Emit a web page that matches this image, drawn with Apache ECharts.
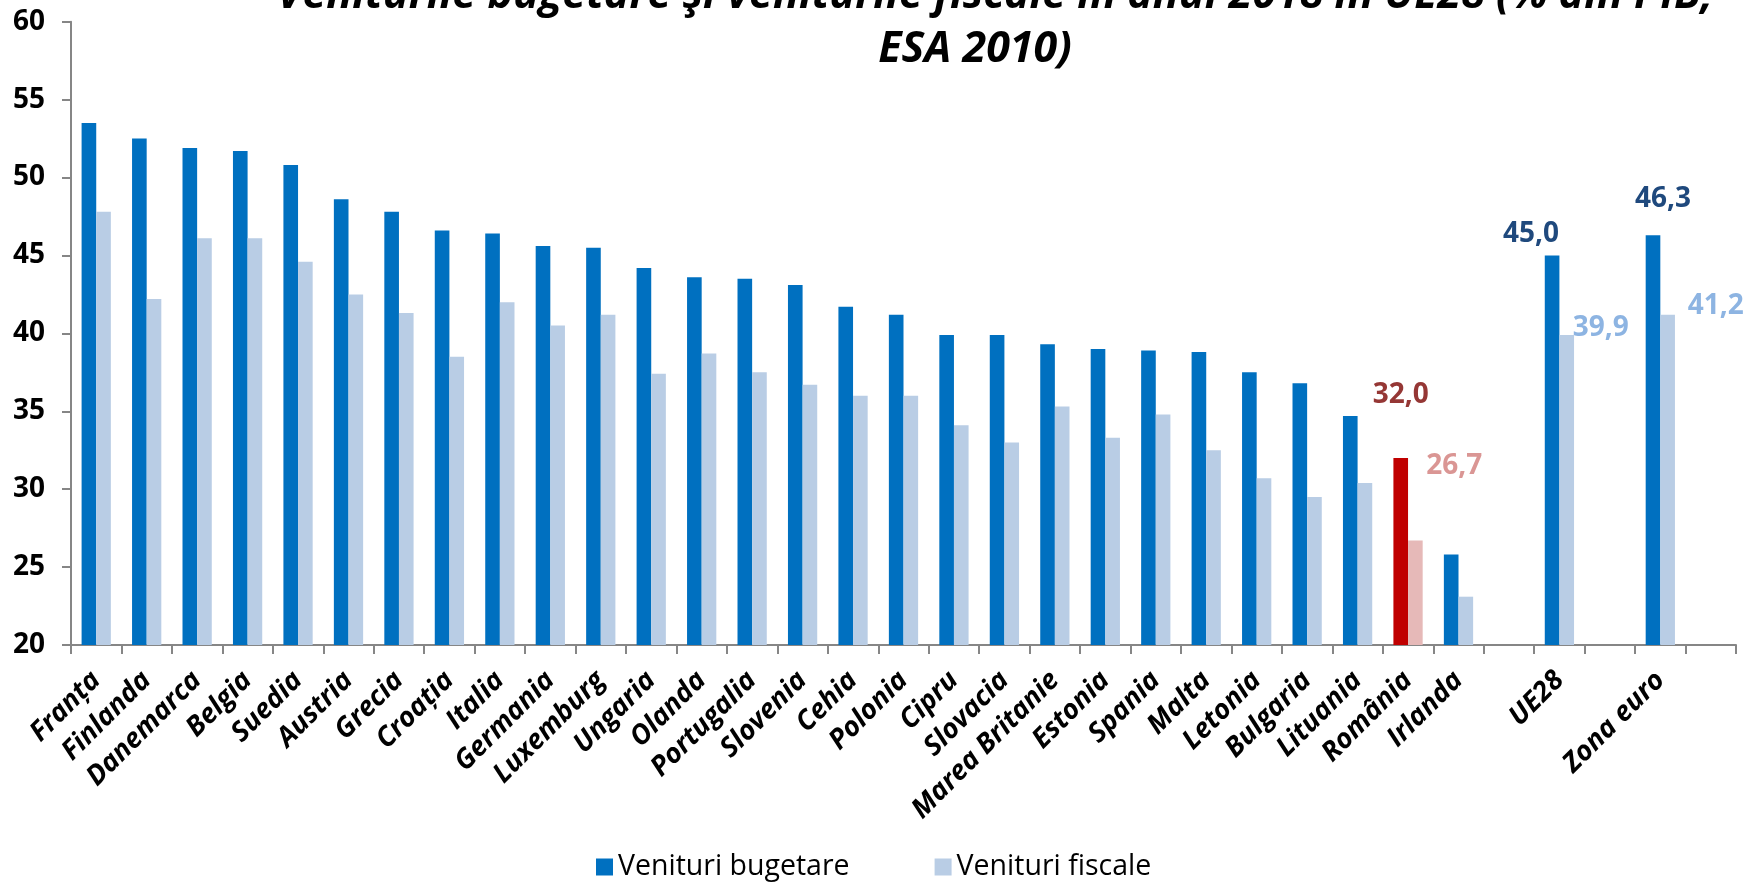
<!DOCTYPE html>
<html>
<head>
<meta charset="utf-8">
<script src="https://cdn.jsdelivr.net/npm/echarts@6/dist/echarts.min.js"></script>
<style>
html,body{margin:0;padding:0;background:#fff;}
#chart{width:1760px;height:883px;}
</style>
</head>
<body>
<div id="chart"></div>
<script>
const categories = ['Franța','Finlanda','Danemarca','Belgia','Suedia','Austria','Grecia','Croația','Italia','Germania','Luxemburg','Ungaria','Olanda','Portugalia','Slovenia','Cehia','Polonia','Cipru','Slovacia','Marea Britanie','Estonia','Spania','Malta','Letonia','Bulgaria','Lituania','România','Irlanda',' ','UE28','  ','Zona euro','   '];
const venituriBugetare = [53.5,52.5,51.9,51.7,50.8,48.6,47.8,46.6,46.4,45.6,45.5,44.2,43.6,43.5,43.1,41.7,41.2,39.9,39.9,39.3,39.0,38.9,38.8,37.5,36.8,34.7,32.0,25.8,null,45.0,null,46.3,null];
const venituriFiscale = [47.8,42.2,46.1,46.1,44.6,42.5,41.3,38.5,42.0,40.5,41.2,37.4,38.7,37.5,36.7,36.0,36.0,34.1,33.0,35.3,33.3,34.8,32.5,30.7,29.5,30.4,26.7,23.1,null,39.9,null,41.2,null];
const seriesNames = ['Venituri bugetare','Venituri fiscale'];
const yTicks = {min:20, max:60, interval:5};
const titleLines = ['Veniturile bugetare şi veniturile fiscale în anul 2018 în UE28 (% din PIB,', 'ESA 2010)'];

const FONT = "'Open Sans'";
const fmt = p => p.value.toFixed(1).replace('.', ',');

// styling for highlighted categories (România, UE28, Zona euro)
const highlight = {
  'România': [
    {color:'#C00000', label:{color:'#953735', offset:[0,-44]}},
    {color:'#E6B9B8', label:{color:'#DA9694', offset:[39,-56]}}
  ],
  'UE28': [
    {color:null, label:{color:'#1F497D', offset:[-21,-2]}},
    {color:null, label:{color:'#8DB4E2', offset:[34,12]}}
  ],
  'Zona euro': [
    {color:null, label:{color:'#1F497D', offset:[10,-17]}},
    {color:null, label:{color:'#8DB4E2', offset:[48,10]}}
  ]
};

function buildData(values, sIdx) {
  return values.map((v, i) => {
    if (v == null) return '-';
    const h = highlight[categories[i]];
    if (!h) return v;
    const st = h[sIdx];
    const item = {value: v, label: {
      show: true, position: 'top', distance: 5, formatter: fmt,
      fontFamily: FONT, fontWeight: 'bold', fontSize: 28, lineHeight: 28,
      color: st.label.color, offset: st.label.offset
    }};
    if (st.color) item.itemStyle = {color: st.color};
    return item;
  });
}

const titleStyle = {fontFamily: FONT, fontStyle: 'italic', fontWeight: 'bold', fontSize: 43, lineHeight: 50, color: '#000'};

const chart = echarts.init(document.getElementById('chart'));
chart.setOption({
  animation: false,
  backgroundColor: '#fff',
  title: [
    {text: titleLines[0], left: 995, top: -29, textAlign: 'center', padding: 0, textStyle: titleStyle},
    {text: titleLines[1], left: 975, top: 25, textAlign: 'center', padding: 0, textStyle: titleStyle}
  ],
  grid: {left: 71, right: 24, top: 21.7, bottom: 238},
  legend: {
    data: seriesNames, left: 596, top: 852, itemGap: 85, padding: 0,
    icon: 'rect', itemWidth: 17, itemHeight: 17,
    textStyle: {fontFamily: FONT, fontSize: 28.5, lineHeight: 30, color: '#000'}
  },
  xAxis: {
    type: 'category', data: categories,
    axisLine: {lineStyle: {color: '#868686', width: 2}},
    axisTick: {show: true, interval: 0, length: 9, lineStyle: {color: '#868686', width: 2}},
    axisLabel: {interval: 0, rotate: 45, margin: 31, fontFamily: FONT, fontStyle: 'italic', fontWeight: 'bold', fontSize: 27.5, color: '#000'}
  },
  yAxis: {
    type: 'value', min: yTicks.min, max: yTicks.max, interval: yTicks.interval,
    splitLine: {show: false},
    axisLine: {show: true, lineStyle: {color: '#868686', width: 2}},
    axisTick: {show: true, length: 9, lineStyle: {color: '#868686', width: 2}},
    axisLabel: {margin: 26, fontFamily: FONT, fontWeight: 'bold', fontSize: 28, color: '#000'}
  },
  series: [
    {name: seriesNames[0], type: 'bar', data: buildData(venituriBugetare, 0), barWidth: '29%', barGap: '0%', itemStyle: {color: '#0070C0'}},
    {name: seriesNames[1], type: 'bar', data: buildData(venituriFiscale, 1), barWidth: '29%', barGap: '0%', itemStyle: {color: '#B9CDE5'}}
  ]
});
</script>
</body>
</html>
